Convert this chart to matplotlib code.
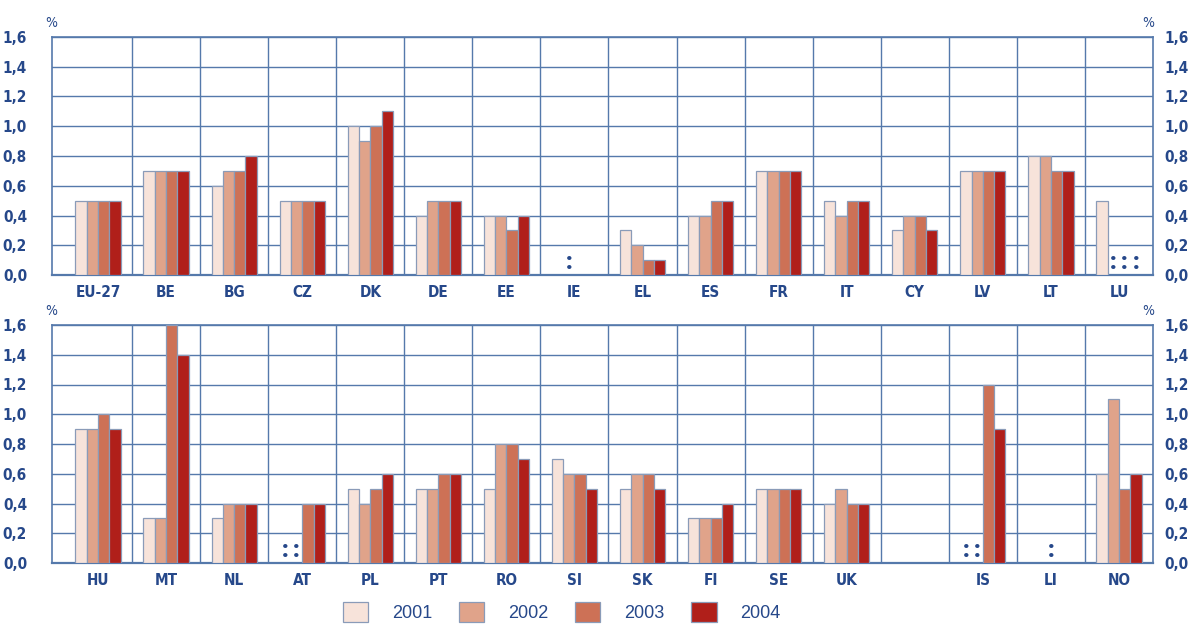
import matplotlib
matplotlib.use("Agg")
import matplotlib.pyplot as plt
from matplotlib.patches import Patch
from matplotlib import font_manager
import numpy as np

years = ["2001", "2002", "2003", "2004"]
colors = ["#f7e3da", "#e0a38a", "#cd7156", "#b01f1a"]

top_labels = ["EU-27", "BE", "BG", "CZ", "DK", "DE", "EE", "IE",
              "EL", "ES", "FR", "IT", "CY", "LV", "LT", "LU"]
top_2001 = [0.5, 0.7, 0.6, 0.5, 1.0, 0.4, 0.4, None, 0.3, 0.4, 0.7, 0.5, 0.3, 0.7, 0.8, 0.5]
top_2002 = [0.5, 0.7, 0.7, 0.5, 0.9, 0.5, 0.4, None, 0.2, 0.4, 0.7, 0.4, 0.4, 0.7, 0.8, None]
top_2003 = [0.5, 0.7, 0.7, 0.5, 1.0, 0.5, 0.3, None, 0.1, 0.5, 0.7, 0.5, 0.4, 0.7, 0.7, None]
top_2004 = [0.5, 0.7, 0.8, 0.5, 1.1, 0.5, 0.4, None, 0.1, 0.5, 0.7, 0.5, 0.3, 0.7, 0.7, None]
# ':' = not available, (category, slot)
top_na = [("IE", 1), ("LU", 1), ("LU", 2), ("LU", 3)]

bot_labels = ["HU", "MT", "NL", "AT", "PL", "PT", "RO", "SI",
              "SK", "FI", "SE", "UK", "", "IS", "LI", "NO"]
bot_2001 = [0.9, 0.3, 0.3, None, 0.5, 0.5, 0.5, 0.7, 0.5, 0.3, 0.5, 0.4, None, None, None, 0.6]
bot_2002 = [0.9, 0.3, 0.4, None, 0.4, 0.5, 0.8, 0.6, 0.6, 0.3, 0.5, 0.5, None, None, None, 1.1]
bot_2003 = [1.0, 1.6, 0.4, 0.4, 0.5, 0.6, 0.8, 0.6, 0.6, 0.3, 0.5, 0.4, None, 1.2, None, 0.5]
bot_2004 = [0.9, 1.4, 0.4, 0.4, 0.6, 0.6, 0.7, 0.5, 0.5, 0.4, 0.5, 0.4, None, 0.9, None, 0.6]
bot_na = [("AT", 0), ("AT", 1), ("IS", 0), ("IS", 1), ("LI", 1.5)]

BLUE = "#26488a"
GRID = "#5579ab"
bw = 0.166

# narrow faces for axis labels
xfont = font_manager.FontProperties(family="DejaVu Sans", stretch="condensed",
                                    weight="bold", size=11)
yfont = font_manager.FontProperties(family="DejaVu Sans", stretch="condensed",
                                    weight="bold", size=11)
pct = font_manager.FontProperties(family="DejaVu Sans", stretch="condensed", size=10)
na_font = font_manager.FontProperties(family="Lato", weight="heavy", size=18)


def style_yticks(axis_obj, ticks):
    axis_obj.set_yticks(ticks)
    axis_obj.set_yticklabels([f"{v:.1f}".replace(".", ",") for v in ticks])
    for lab in axis_obj.get_yticklabels():
        lab.set_fontproperties(yfont)


def draw_panel(ax, labels, series, na):
    x = np.arange(len(labels))
    for k, vals in enumerate(series):
        xs = [xi + (k - 1.5) * bw for xi, v in zip(x, vals) if v is not None]
        hs = [v for v in vals if v is not None]
        ax.bar(xs, hs, width=bw, color=colors[k], edgecolor="#8a9bb8",
               linewidth=0.9, zorder=3)
    for name, slot in na:
        xi = labels.index(name)
        ax.text(xi + (slot - 1.5) * bw, 0.085, ":", ha="center", va="center",
                fontproperties=na_font, color=BLUE, zorder=4)
    ax.set_xlim(-0.676, len(labels) - 0.5)
    ax.set_ylim(0, 1.6)
    ticks = np.arange(0, 1.61, 0.2)
    style_yticks(ax, ticks)
    ax.yaxis.grid(True, color=GRID, linewidth=1.0, zorder=0)
    for b in np.arange(0.5, len(labels) - 1, 1.0):
        ax.axvline(b, color=GRID, linewidth=1.0, zorder=0)
    ax.set_xticks(x)
    ax.set_xticklabels(labels)
    ax.tick_params(axis="both", length=0, colors=BLUE)
    ax.tick_params(axis="x", pad=7)
    ax.tick_params(axis="y", pad=18)
    for lab in ax.get_xticklabels():
        lab.set_fontproperties(xfont)

    rax = ax.secondary_yaxis("right")
    style_yticks(rax, ticks)
    rax.tick_params(length=0, colors=BLUE, pad=8)
    rax.spines["right"].set_visible(False)

    for sp in ax.spines.values():
        sp.set_color(GRID)
        sp.set_linewidth(1.2)
    ax.spines["bottom"].set_linewidth(1.6)
    ax.set_axisbelow(True)
    ax.text(-0.001, 1.03, "%", transform=ax.transAxes, ha="center", va="bottom",
            color=BLUE, fontproperties=pct)
    ax.text(0.9955, 1.03, "%", transform=ax.transAxes, ha="center", va="bottom",
            color=BLUE, fontproperties=pct)


fig = plt.figure(figsize=(12, 6.24), dpi=100)
ax1 = fig.add_axes([52 / 1200, 1 - 275 / 624, 1101 / 1200, 238 / 624])
ax2 = fig.add_axes([52 / 1200, 1 - 563 / 624, 1101 / 1200, 238 / 624])

draw_panel(ax1, top_labels, [top_2001, top_2002, top_2003, top_2004], top_na)
draw_panel(ax2, bot_labels, [bot_2001, bot_2002, bot_2003, bot_2004], bot_na)

handles = [Patch(facecolor=c, edgecolor="#8a9bb8", linewidth=0.9) for c in colors]
leg = fig.legend(handles, years, loc="center", bbox_to_anchor=(0.468, 1 - 612 / 624),
                 ncol=4, frameon=False, fontsize=13, handlelength=1.4,
                 handleheight=1.4, handletextpad=1.3, columnspacing=1.5)
for t in leg.get_texts():
    t.set_color(BLUE)
    t.set_family("Liberation Sans")

fig.savefig("out.png", dpi=100)
